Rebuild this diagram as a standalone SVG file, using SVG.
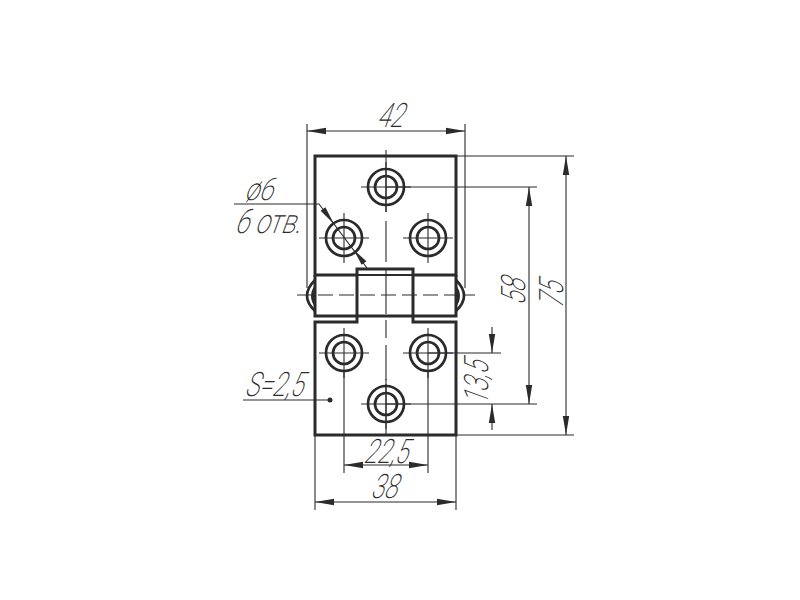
<svg xmlns="http://www.w3.org/2000/svg" width="800" height="600" viewBox="0 0 800 600">
<style>
.o{fill:none;stroke:#2b2b2b;stroke-width:3}
.h{fill:none;stroke:#2b2b2b;stroke-width:2.700}
.t{fill:none;stroke:#2b2b2b;stroke-width:1.100}
.c{fill:none;stroke:#2b2b2b;stroke-width:1.100;stroke-dasharray:15 6}
.d{fill:none;stroke:#2b2b2b;stroke-width:1.100;marker-start:url(#a);marker-end:url(#a)}
text{font-family:"Roboto","Liberation Sans",sans-serif;font-weight:200;font-size:28px;fill:#2b2b2b;text-anchor:middle}
</style>
<defs>
<marker id="a" markerWidth="20" markerHeight="8" refX="19" refY="4" orient="auto-start-reverse" markerUnits="userSpaceOnUse"><path d="M0 0.800L19 4L0 7.200Z" fill="#2b2b2b"/></marker>
<g id="hole"><circle r="18" class="h"/><circle r="11" class="h"/><path class="t" d="M-25 0H25M0-25V25"/></g>
</defs>
<g id="connectors">
<path class="t" d="M307 124V288M465 124V288"/>
<path class="d" d="M307 131H465"/>
<path class="t" d="M456 156H574M386 187H537M386 404H537M456 435H574"/>
<path class="d" d="M566 156V435"/>
<path class="d" d="M529 187V404"/>
<path class="t" d="M428 353H501"/>
<path class="t" d="M492 327V353M492 404V430"/>
<path d="M492 353L488.800 334H495.200ZM492 404L488.800 423H495.200Z" fill="#2b2b2b"/>
<path class="t" d="M315 436V510M456 436V510M344 370V473M428 370V473"/>
<path class="d" d="M344 465H428"/>
<path class="d" d="M315 502H456"/>
<path class="t" d="M234 204H319L367 268"/>
<path d="M334 224L325.400 207.200L320.600 210.800ZM354 250L366.400 261.200L361.600 264.800Z" fill="#2b2b2b"/>
<path class="t" d="M243 400H329"/>
<circle cx="330" cy="400" r="2.500" fill="#2b2b2b"/>
</g>
<g id="hinge">
<path class="o" d="M357 275H315V156H456V275H413M315 322H357V269H413V322H456V435H315Z"/>
<path class="o" d="M315 275V316H456V275"/>
<path class="t" d="M315 275H456" style="stroke-width:2"/>
<path class="h" d="M315 280Q299 296 315 311M456 280Q472 296 456 311"/>
<path d="M315 285Q307 296 315 307ZM456 285Q464 296 456 307Z" fill="#2b2b2b"/>
<path class="c" d="M297 295H475"/>
<path class="t" d="M386 150V212M386 221V262M386 270V314M386 320V338M386 345V380M386 384V435"/>
</g>
<g id="holes">
<use href="#hole" x="386" y="187"/>
<use href="#hole" x="344" y="238"/>
<use href="#hole" x="428" y="238"/>
<use href="#hole" x="344" y="353"/>
<use href="#hole" x="428" y="353"/>
<use href="#hole" x="386" y="404"/>
</g>
<g id="labels">
<text transform="translate(389 127) skewX(-20) scale(.85 1.2)">42</text>
<text transform="translate(258 200) skewX(-20) scale(.95 1.15)" style="font-size:27px">ø6</text>
<text transform="translate(267 233) skewX(-20) scale(.95 1.25)" style="font-size:27px">6 отв.</text>
<text transform="translate(273 396) skewX(-20) scale(.85 1.2)">S=2,5</text>
<text transform="translate(385 463) skewX(-20) scale(.85 1.2)">22,5</text>
<text transform="translate(383 498) skewX(-20) scale(.85 1.2)">38</text>
<text transform="translate(525 293) rotate(-90) skewX(-20) scale(.85 1.2)">58</text>
<text transform="translate(563 296) rotate(-90) skewX(-20) scale(.85 1.2)">75</text>
<text transform="translate(488 384) rotate(-90) skewX(-20) scale(.85 1.2)">13,5</text>
</g>
</svg>
